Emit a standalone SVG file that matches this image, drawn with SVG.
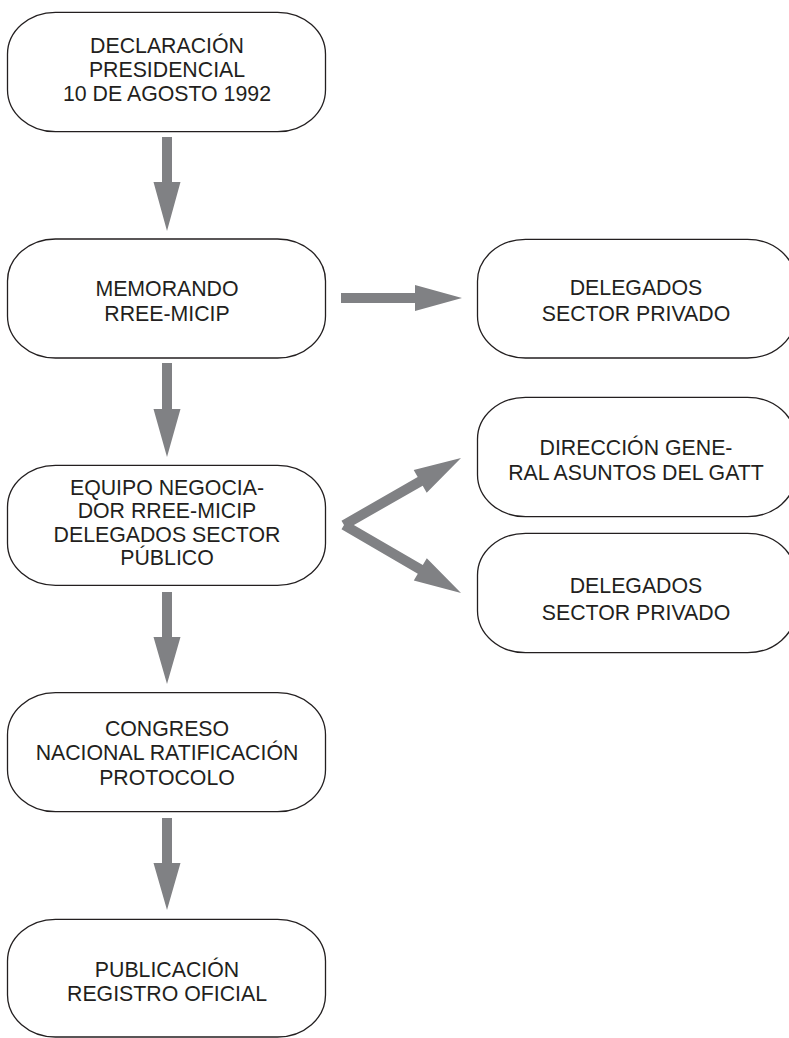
<svg xmlns="http://www.w3.org/2000/svg" width="789" height="1038" viewBox="0 0 789 1038">
<style>
.box{fill:#ffffff;stroke:#231f20;stroke-width:1.3}
.lbl{font-family:"Liberation Sans",Arial,Helvetica,sans-serif;font-size:21.3px;fill:#231f20;text-anchor:middle}
.arr{fill:#808184;stroke:none}
</style>
<rect width="789" height="1038" fill="#ffffff"/>
<g id="connectors">
<polygon class="arr" points="162,137 172,137 172,182 180.5,182 167,231 153.5,182 162,182"/>
<polygon class="arr" points="162,363 172,363 172,409 180.5,409 167,457 153.5,409 162,409"/>
<polygon class="arr" points="162,592 172,592 172,637 180.5,637 167,684 153.5,637 162,637"/>
<polygon class="arr" points="162,818 172,818 172,863 180.5,863 167,910 153.5,863 162,863"/>
<polygon class="arr" points="341,293 415,293 415,285 462,298 415,311 415,303 341,303"/>
<polygon class="arr" points="346.5,529.3 341.5,520.7 417.7,477.1 413.7,470.1 461,458 426.7,492.7 422.7,485.7"/>
<polygon class="arr" points="341.5,529.3 346.5,520.7 422.8,565.1 426.8,558.2 461,593 413.8,580.6 417.8,573.7"/>
</g>
<g id="n1">
<rect class="box" x="7.5" y="12.3" width="318" height="119.4" rx="48" ry="42"/>
<text class="lbl" x="167" y="53">DECLARACIÓN</text>
<text class="lbl" x="167" y="77">PRESIDENCIAL</text>
<text class="lbl" x="167" y="101">10 DE AGOSTO 1992</text>
</g>
<g id="n2">
<rect class="box" x="7.5" y="239" width="318" height="119" rx="48" ry="42"/>
<text class="lbl" x="167" y="296">MEMORANDO</text>
<text class="lbl" x="167" y="320.5">RREE-MICIP</text>
</g>
<g id="n3">
<rect class="box" x="7.5" y="465.3" width="318" height="120" rx="48" ry="42"/>
<text class="lbl" x="167" y="495">EQUIPO NEGOCIA-</text>
<text class="lbl" x="167" y="518.3">DOR RREE-MICIP</text>
<text class="lbl" x="167" y="541.6">DELEGADOS SECTOR</text>
<text class="lbl" x="167" y="564.9">PÚBLICO</text>
</g>
<g id="n4">
<rect class="box" x="7.5" y="692.7" width="318" height="119" rx="48" ry="42"/>
<text class="lbl" x="167" y="736">CONGRESO</text>
<text class="lbl" x="167" y="760.3">NACIONAL RATIFICACIÓN</text>
<text class="lbl" x="167" y="784.6">PROTOCOLO</text>
</g>
<g id="n5">
<rect class="box" x="7.5" y="919.3" width="318" height="117.7" rx="48" ry="42"/>
<text class="lbl" x="167" y="976.7">PUBLICACIÓN</text>
<text class="lbl" x="167" y="1000.5">REGISTRO OFICIAL</text>
</g>
<g id="r1">
<rect class="box" x="477.5" y="239.3" width="318" height="118.7" rx="48" ry="42"/>
<text class="lbl" x="636" y="295">DELEGADOS</text>
<text class="lbl" x="636" y="321">SECTOR PRIVADO</text>
</g>
<g id="r2">
<rect class="box" x="477.5" y="397.3" width="318" height="119.4" rx="48" ry="42"/>
<text class="lbl" x="636" y="455">DIRECCIÓN GENE-</text>
<text class="lbl" x="636" y="480">RAL ASUNTOS DEL GATT</text>
</g>
<g id="r3">
<rect class="box" x="477.5" y="533.3" width="318" height="119.4" rx="48" ry="42"/>
<text class="lbl" x="636" y="593.3">DELEGADOS</text>
<text class="lbl" x="636" y="619.5">SECTOR PRIVADO</text>
</g>
</svg>
